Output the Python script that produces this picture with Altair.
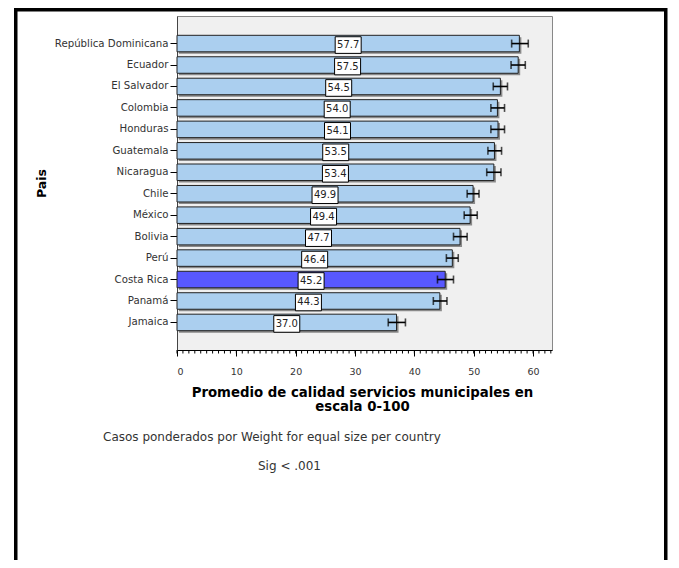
import altair as alt
import pandas as pd

countries = ["República Dominicana", "Ecuador", "El Salvador", "Colombia", "Honduras",
             "Guatemala", "Nicaragua", "Chile", "México", "Bolivia", "Perú",
             "Costa Rica", "Panamá", "Jamaica"]
means = [57.7, 57.5, 54.5, 54.0, 54.1, 53.5, 53.4, 49.9, 49.4, 47.7, 46.4, 45.2, 44.3, 37.0]
ci_low = [56.4, 56.3, 53.3, 52.9, 52.9, 52.4, 52.2, 48.9, 48.4, 46.6, 45.4, 43.9, 43.2, 35.6]
ci_high = [59.2, 58.7, 55.7, 55.2, 55.2, 54.7, 54.6, 50.9, 50.6, 48.9, 47.4, 46.6, 45.5, 38.5]
highlight = "Costa Rica"
x_major = [0, 10, 20, 30, 40, 50, 60]
x_minor = list(range(0, 64))
x_title = ["Promedio de calidad servicios municipales en", "escala 0-100"]
y_title = "Pais"
note1 = "Casos ponderados por Weight for equal size per country"
note2 = "Sig < .001"

FONT = "DejaVu Sans"

df = pd.DataFrame({
    "pais": countries,
    "media": means,
    "mid": [m / 2 for m in means],
    "lo": ci_low,
    "hi": ci_high,
    "hl": [c == highlight for c in countries],
})

xscale = alt.Scale(domain=[0, 63.2], nice=False, zero=True)
yscale = alt.Scale(domain=countries, paddingInner=0.23, paddingOuter=0.9)

x_enc = alt.X("media:Q", scale=xscale,
              axis=alt.Axis(values=x_major, title=x_title, grid=False, tickSize=6,
                            labelPadding=10, labelFontSize=9.5, labelColor="#333333",
                            labelFont=FONT, domainColor="#000000", tickColor="#000000",
                            titleFont=FONT, titleFontSize=13.3, titleFontWeight="bold",
                            titleColor="#000000", titleY=35, titleBaseline="top",
                            titleLineHeight=14, titleX=185))
y_enc = alt.Y("pais:N", scale=yscale, sort=None,
              axis=alt.Axis(title=y_title, tickSize=7, labelPadding=2, labelFontSize=10.2,
                            labelColor="#333333", labelFont=FONT, domainColor="#444444",
                            tickColor="#000000", titleFont=FONT, titleFontSize=12.5,
                            titleFontWeight="bold", titleColor="#000000", titleAngle=270,
                            titleX=-136, titleY=167, titleAlign="center",
                            titleBaseline="middle"))

base = alt.Chart(df)

shadow = base.mark_bar(color="#8a8a8a", xOffset=2, yOffset=2).encode(x=x_enc, y=y_enc)

bars = base.mark_bar(stroke="#222222", strokeWidth=1).encode(
    x=alt.X("media:Q", scale=xscale),
    y=alt.Y("pais:N", scale=yscale, sort=None),
    color=alt.Color("hl:N", scale=alt.Scale(domain=[False, True],
                                            range=["#abcfef", "#5858ff"]), legend=None),
)

err = base.mark_rule(color="#000000", strokeWidth=1.6).encode(
    x=alt.X("lo:Q", scale=xscale), x2="hi:Q",
    y=alt.Y("pais:N", scale=yscale, sort=None))
cap_lo = base.mark_tick(color="#000000", size=8, thickness=1.6, orient="vertical").encode(
    x=alt.X("lo:Q", scale=xscale), y=alt.Y("pais:N", scale=yscale, sort=None))
cap_hi = base.mark_tick(color="#000000", size=8, thickness=1.6, orient="vertical").encode(
    x=alt.X("hi:Q", scale=xscale), y=alt.Y("pais:N", scale=yscale, sort=None))

boxes = base.mark_point(shape="M-1,-0.64H1V0.64H-1Z", size=676, filled=True,
                        fill="#ffffff", stroke="#000000", strokeWidth=1, opacity=1,
                        yOffset=1.5).encode(
    x=alt.X("mid:Q", scale=xscale), y=alt.Y("pais:N", scale=yscale, sort=None))

labels = base.mark_text(font=FONT, fontSize=10, color="#222222", dy=1.5).encode(
    x=alt.X("mid:Q", scale=xscale), y=alt.Y("pais:N", scale=yscale, sort=None),
    text=alt.Text("media:Q", format=".1f"))

minor = alt.Chart(pd.DataFrame({"v": x_minor})).mark_rule(
    color="#000000", strokeWidth=1).encode(
    x=alt.X("v:Q", scale=xscale), y=alt.value(334), y2=alt.value(337.5))

notes = alt.Chart(pd.DataFrame({"t": [note1]})).mark_text(
    font=FONT, fontSize=12, color="#333333", align="left", baseline="middle").encode(
    text="t:N", x=alt.value(-74), y=alt.value(421))
notes2 = alt.Chart(pd.DataFrame({"t": [note2]})).mark_text(
    font=FONT, fontSize=12, color="#333333", align="left", baseline="middle").encode(
    text="t:N", x=alt.value(81), y=alt.value(450))

frame = alt.Chart(pd.DataFrame({"a": [0]})).mark_rect(
    fillOpacity=0, stroke="#000000", strokeWidth=3.5).encode(
    x=alt.value(-161.25), x2=alt.value(488.75), y=alt.value(-6.25), y2=alt.value(600))

chart = alt.layer(shadow, bars, err, cap_lo, cap_hi, boxes, labels, minor,
                  notes, notes2, frame).properties(
    width=375, height=334, autosize="none",
    padding={"left": 169, "top": 8, "right": 118, "bottom": 210},
).configure_view(fill="#f0f0f0", stroke="#888888", strokeWidth=1)

chart.save("out.html", embed_options={"renderer": "svg", "actions": False})
